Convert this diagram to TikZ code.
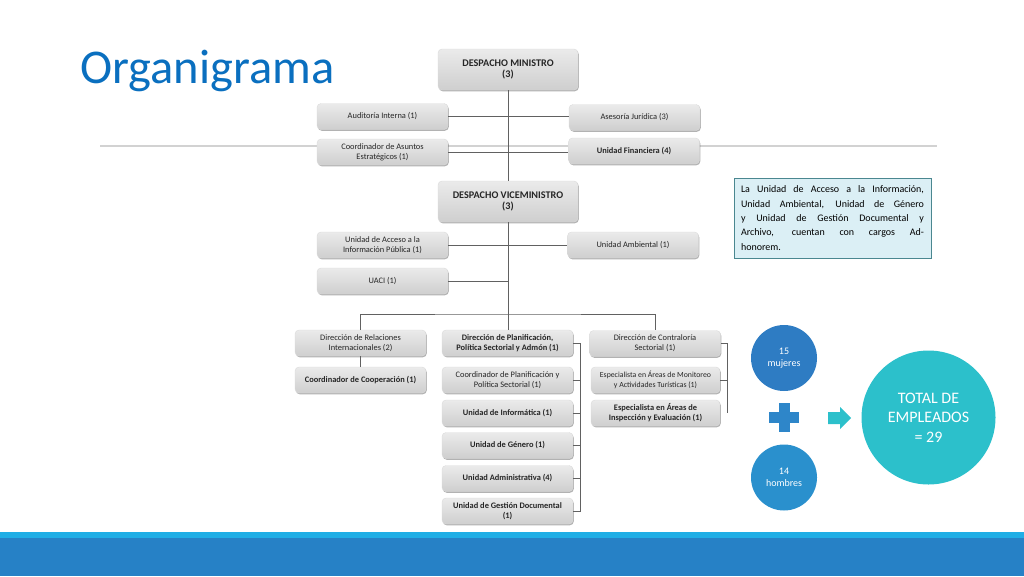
\documentclass[tikz,border=0pt]{standalone}
\usepackage{fontspec}
\setmainfont{Carlito}
\usetikzlibrary{shadows}
\definecolor{ctitle}{HTML}{0A6FBF}
\definecolor{cmuj}{HTML}{2E7CC3}
\definecolor{chom}{HTML}{2A90CD}
\definecolor{cplus}{HTML}{2E86C9}
\definecolor{cteal}{HTML}{2CC0CB}
\definecolor{ccyan}{HTML}{1FAEE6}
\definecolor{cblue}{HTML}{2681C6}
\definecolor{notebg}{HTML}{DBEFF5}
\definecolor{notebd}{HTML}{4A8790}
\begin{document}
\begin{tikzpicture}[x=1pt,y=-1pt,
  box/.style={rounded corners=4pt, top color=gray!16, bottom color=gray!38, draw=gray!28, line width=0.4pt,
    drop shadow={shadow xshift=0.8pt, shadow yshift=-1.3pt, opacity=0.3, fill=black},
    minimum width=131pt, minimum height=26pt, align=center, inner sep=1pt,
    font=\fontsize{8.4}{10}\selectfont, text=black!85},
  bbox/.style={box, font=\fontsize{8.4}{10}\selectfont\bfseries},
  bigbox/.style={box, minimum width=140pt, minimum height=41pt, font=\fontsize{10.2}{11.8}\selectfont\bfseries},
  con/.style={draw=black!62, line width=0.8pt},
  circ/.style={circle, text=white, align=center, inner sep=0pt},
]
\useasboundingbox (0,0) rectangle (1024,576);

% title
\node[anchor=base west, inner sep=0pt, text=ctitle, font=\fontsize{48.5}{48.5}\selectfont] (title) at (80,83) {Organigrama};

% decorative rule
\coordinate (rl) at (100,146);
\coordinate (rr) at (937,146);
\draw[gray!35, line width=1.5pt] (rl) -- (rr);

% boxes
\node[bigbox] (min) at (508,69.5) {DESPACHO MINISTRO\\(3)};
\node[box] (aud) at (382.5,116.5) {Auditoría Interna (1)};
\node[box] (ase) at (634.5,117.5) {Asesoría Jurídica (3)};
\node[box] (cae) at (382.5,152) {Coordinador de Asuntos\\Estratégicos (1)};
\node[bbox] (ufi) at (634,151) {Unidad Financiera (4)};
\node[bigbox] (vice) at (508,201.5) {DESPACHO VICEMINISTRO\\(3)};
\node[box] (uai) at (382.5,245) {Unidad de Acceso a la\\Información Pública (1)};
\node[box] (uam) at (633,245) {Unidad Ambiental (1)};
\node[box] (uaci) at (382.5,281) {UACI (1)};

\node[box] (dri) at (360.5,343) {Dirección de Relaciones\\Internacionales (2)};
\node[bbox] (cco) at (360.5,380) {Coordinador de Cooperación (1)};

\node[bbox] (dpl) at (507.5,343) {Dirección de Planificación,\\Política Sectorial y Admón (1)};
\node[box] (cpp) at (507.5,380) {Coordinador de Planificación y\\Política Sectorial (1)};
\node[bbox] (uin) at (507.5,413) {Unidad de Informática (1)};
\node[bbox] (uge) at (507.5,445.5) {Unidad de Género (1)};
\node[bbox] (uad) at (507.5,478.5) {Unidad Administrativa (4)};
\node[bbox] (ugd) at (507.5,511) {Unidad de Gestión Documental\\(1)};

\node[box] (dco) at (655,343.5) {Dirección de Contraloría\\Sectorial (1)};
\node[box, minimum width=129pt, font=\fontsize{7.8}{9.4}\selectfont] (emo) at (655.5,380) {Especialista en Áreas de Monitoreo\\y Actividades Turísticas (1)};
\node[bbox, minimum width=129pt] (eie) at (655.5,413) {Especialista en Áreas de\\Inspección y Evaluación (1)};

% connectors
\draw[con] (min.south) -- (vice.north);
\draw[con] (aud.east) -- (aud.east -| ase.west);
\draw[con] (cae.east) -- (cae.east -| ufi.west);
\draw[con] (uai.east) -- (uai.east -| uam.west);
\draw[con] (uaci.east) -- (uaci.east -| vice.south);
\coordinate (hub) at (508,314);
\draw[con] (vice.south) -- (hub);
\draw[con] (dri.north) |- (hub) -| (dco.north);
\draw[con] (hub) -- (hub |- dpl.north);
\draw[con] (dri.south) -- (cco.north);

\coordinate (bp) at (580,0);
\draw[con] (dpl.east) -- (dpl.east -| bp) -- (ugd.east -| bp) -- (ugd.east);
\foreach \n in {cpp,uin,uge,uad} \draw[con] (\n.east) -- (\n.east -| bp);

\coordinate (bc) at (727,0);
\draw[con] (dco.east) -- (dco.east -| bc) -- (eie.east -| bc);
\draw[con] (emo.east) -- (emo.east -| bc);

% note
\node[draw=notebd, fill=notebg, line width=0.8pt, text width=183pt, align=justify,
  inner xsep=7pt, inner ysep=4pt, minimum height=80pt,
  font=\fontsize{10}{14.3}\selectfont] (note) at (832.5,218)
  {La Unidad de Acceso a la Información,\linebreak Unidad Ambiental, Unidad de Género\linebreak y Unidad de Gestión Documental y\linebreak Archivo, cuentan con cargos Ad-\linebreak honorem.};

% totals
\node[circ, fill=cmuj, minimum size=66pt, font=\fontsize{10}{12.5}\selectfont] (muj) at (784,358) {15\\mujeres};
\node[circ, fill=chom, minimum size=66pt, font=\fontsize{10}{12.5}\selectfont] (hom) at (784,477.5) {14\\hombres};
\fill[cplus] (769,412) rectangle (799,423);
\fill[cplus] (778.5,403) rectangle (789.5,432);
\fill[cteal] (828,412) -- (840,412) -- (840,407) -- (851,418) -- (840,429) -- (840,424) -- (828,424) -- cycle;
\node[circ, fill=cteal, minimum size=134pt, font=\fontsize{16}{19.5}\selectfont] (tot) at (928.5,417.5) {TOTAL DE\\EMPLEADOS\\= 29};

% footer band
\fill[ccyan] (0,532) rectangle (1024,538);
\fill[cblue] (0,538) rectangle (1024,576);
\end{tikzpicture}
\end{document}
